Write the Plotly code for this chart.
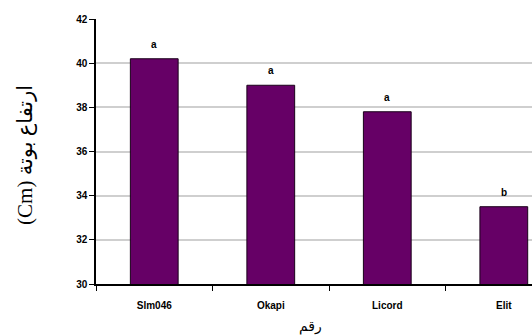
import plotly.graph_objects as go

# Plant height per variety with significance letters
varieties = ["Slm046", "Okapi", "Licord", "Elit"]
heights = [40.2, 39.0, 37.8, 33.5]
letters = ["a", "a", "a", "b"]
y_ticks = [30, 32, 34, 36, 38, 40, 42]

BAR_COLOR = "#660066"
TICK_FONT = dict(family="Liberation Sans, Arial", size=10, color="#000000", weight="bold")

fig = go.Figure()
fig.add_trace(go.Bar(
    x=varieties,
    y=heights,
    width=0.41,
    marker=dict(color=BAR_COLOR, line=dict(color="#1a001a", width=1)),
    hoverinfo="x+y",
))

# significance letters above each bar
for v, h, t in zip(varieties, heights, letters):
    fig.add_annotation(
        x=v, y=h, text=f"<b>{t}</b>", showarrow=False,
        yanchor="bottom", yshift=7,
        font=dict(family="Liberation Sans, Arial", size=10, color="#000000"),
    )

# axis titles
fig.add_annotation(
    xref="paper", yref="paper", x=-0.163, y=0.487,
    text="(Cm) ارتفاع بوتة", textangle=-90, showarrow=False,
    xanchor="center", yanchor="middle",
    font=dict(family="Liberation Serif, Times New Roman, DejaVu Sans", size=21, color="#000000"),
)
fig.add_annotation(
    xref="paper", yref="paper", x=0.491, y=-0.162,
    text="رقم", showarrow=False, xanchor="center", yanchor="middle",
    font=dict(family="DejaVu Sans", size=14, color="#000000"),
)

fig.update_layout(
    width=532, height=336,
    margin=dict(l=96, r=0, t=19, b=52),
    paper_bgcolor="#ffffff", plot_bgcolor="#ffffff",
    showlegend=False,
)
fig.update_xaxes(
    type="category",
    range=[-0.5, 3.242],
    tickson="boundaries",
    ticks="outside", ticklen=5, tickcolor="#000000", tickwidth=1,
    showline=True, linecolor="#000000", linewidth=1.5,
    showgrid=False,
    tickfont=TICK_FONT,
    ticklabelstandoff=11,
)
fig.update_yaxes(
    range=[30, 42],
    tickvals=y_ticks,
    ticktext=[str(t) for t in y_ticks],
    ticks="outside", ticklen=5, tickcolor="#000000", tickwidth=1,
    showline=True, linecolor="#000000", linewidth=1.5,
    showgrid=True, gridcolor="#cfcfcf", gridwidth=1.5,
    zeroline=False,
    tickfont=TICK_FONT,
)

fig.write_html("out.html")
